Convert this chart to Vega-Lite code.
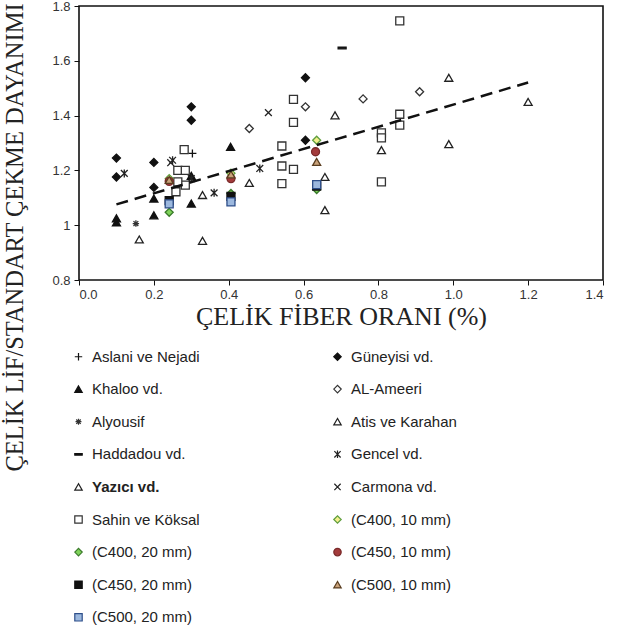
{
  "$schema": "https://vega.github.io/schema/vega-lite/v6.json",
  "width": 524,
  "height": 274,
  "autosize": "none",
  "padding": {"left": 79, "top": 6, "right": 20, "bottom": 352},
  "background": "white",
  "config": {
    "view": {"stroke": "#111", "strokeWidth": 1.6},
    "axis": {"grid": false, "labelFont": "Liberation Sans", "labelFontSize": 13, "labelColor": "#333", "tickColor": "#111", "domainColor": "#111", "tickSize": 5, "titleFont": "Liberation Serif", "titleFontWeight": "normal", "titleColor": "#222", "titleFontSize": 25},
    "legend": {"labelFont": "Liberation Sans", "labelFontSize": 15, "labelColor": "#222"}
  },
  "datasets": {
    "pts": [
      {"s": "Aslani ve Nejadi", "x": 0.303, "y": 1.262},
      {"s": "Güneyisi vd.", "x": 0.1, "y": 1.245},
      {"s": "Güneyisi vd.", "x": 0.1, "y": 1.176},
      {"s": "Güneyisi vd.", "x": 0.2, "y": 1.229},
      {"s": "Güneyisi vd.", "x": 0.2, "y": 1.138},
      {"s": "Güneyisi vd.", "x": 0.3, "y": 1.432},
      {"s": "Güneyisi vd.", "x": 0.3, "y": 1.383},
      {"s": "Güneyisi vd.", "x": 0.605, "y": 1.538},
      {"s": "Güneyisi vd.", "x": 0.605, "y": 1.31},
      {"s": "Khaloo vd.", "x": 0.1, "y": 1.025},
      {"s": "Khaloo vd.", "x": 0.1, "y": 1.01},
      {"s": "Khaloo vd.", "x": 0.2, "y": 1.036},
      {"s": "Khaloo vd.", "x": 0.2, "y": 1.097},
      {"s": "Khaloo vd.", "x": 0.3, "y": 1.079},
      {"s": "Khaloo vd.", "x": 0.3, "y": 1.18},
      {"s": "Khaloo vd.", "x": 0.405, "y": 1.286},
      {"s": "AL-Ameeri", "x": 0.455, "y": 1.353},
      {"s": "AL-Ameeri", "x": 0.605, "y": 1.432},
      {"s": "AL-Ameeri", "x": 0.759, "y": 1.461},
      {"s": "AL-Ameeri", "x": 0.91, "y": 1.487},
      {"s": "Alyousif", "x": 0.152, "y": 1.006},
      {"s": "Atis ve Karahan", "x": 0.161, "y": 0.948},
      {"s": "Atis ve Karahan", "x": 0.33, "y": 0.943},
      {"s": "Atis ve Karahan", "x": 0.33, "y": 1.11},
      {"s": "Atis ve Karahan", "x": 0.455, "y": 1.154},
      {"s": "Atis ve Karahan", "x": 0.657, "y": 1.055},
      {"s": "Atis ve Karahan", "x": 0.657, "y": 1.176},
      {"s": "Haddadou vd.", "x": 0.703, "y": 1.647},
      {"s": "Gencel vd.", "x": 0.121, "y": 1.189},
      {"s": "Gencel vd.", "x": 0.25, "y": 1.237},
      {"s": "Gencel vd.", "x": 0.361, "y": 1.118},
      {"s": "Gencel vd.", "x": 0.483, "y": 1.207},
      {"s": "Gencel vd.", "x": 0.3, "y": 1.17},
      {"s": "Yazıcı vd.", "x": 0.684, "y": 1.401},
      {"s": "Yazıcı vd.", "x": 0.808, "y": 1.274},
      {"s": "Yazıcı vd.", "x": 0.988, "y": 1.538},
      {"s": "Yazıcı vd.", "x": 0.988, "y": 1.296},
      {"s": "Yazıcı vd.", "x": 1.2, "y": 1.45},
      {"s": "Carmona vd.", "x": 0.506, "y": 1.411},
      {"s": "Carmona vd.", "x": 0.245, "y": 1.228},
      {"s": "Sahin ve Köksal", "x": 0.857, "y": 1.746},
      {"s": "Sahin ve Köksal", "x": 0.573, "y": 1.459},
      {"s": "Sahin ve Köksal", "x": 0.573, "y": 1.375},
      {"s": "Sahin ve Köksal", "x": 0.542, "y": 1.289},
      {"s": "Sahin ve Köksal", "x": 0.542, "y": 1.216},
      {"s": "Sahin ve Köksal", "x": 0.573, "y": 1.204},
      {"s": "Sahin ve Köksal", "x": 0.542, "y": 1.152},
      {"s": "Sahin ve Köksal", "x": 0.808, "y": 1.337},
      {"s": "Sahin ve Köksal", "x": 0.808, "y": 1.319},
      {"s": "Sahin ve Köksal", "x": 0.857, "y": 1.405},
      {"s": "Sahin ve Köksal", "x": 0.857, "y": 1.365},
      {"s": "Sahin ve Köksal", "x": 0.808, "y": 1.158},
      {"s": "Sahin ve Köksal", "x": 0.281, "y": 1.276},
      {"s": "Sahin ve Köksal", "x": 0.264, "y": 1.2},
      {"s": "Sahin ve Köksal", "x": 0.284, "y": 1.2},
      {"s": "Sahin ve Köksal", "x": 0.259, "y": 1.122},
      {"s": "Sahin ve Köksal", "x": 0.284, "y": 1.146},
      {"s": "Sahin ve Köksal", "x": 0.264, "y": 1.158},
      {"s": "(C400, 10 mm)", "x": 0.241, "y": 1.17},
      {"s": "(C400, 10 mm)", "x": 0.406, "y": 1.19},
      {"s": "(C400, 10 mm)", "x": 0.635, "y": 1.31},
      {"s": "(C400, 20 mm)", "x": 0.241, "y": 1.047},
      {"s": "(C400, 20 mm)", "x": 0.406, "y": 1.116},
      {"s": "(C400, 20 mm)", "x": 0.635, "y": 1.13},
      {"s": "(C450, 20 mm)", "x": 0.241, "y": 1.09},
      {"s": "(C450, 20 mm)", "x": 0.406, "y": 1.105},
      {"s": "(C450, 20 mm)", "x": 0.635, "y": 1.143},
      {"s": "(C500, 20 mm)", "x": 0.241, "y": 1.078},
      {"s": "(C500, 20 mm)", "x": 0.406, "y": 1.085},
      {"s": "(C500, 20 mm)", "x": 0.635, "y": 1.148},
      {"s": "(C450, 10 mm)", "x": 0.241, "y": 1.16},
      {"s": "(C450, 10 mm)", "x": 0.406, "y": 1.17},
      {"s": "(C450, 10 mm)", "x": 0.632, "y": 1.268},
      {"s": "(C500, 10 mm)", "x": 0.241, "y": 1.165},
      {"s": "(C500, 10 mm)", "x": 0.406, "y": 1.185},
      {"s": "(C500, 10 mm)", "x": 0.635, "y": 1.231}
    ],
    "trend": [
      {"x": 0.1, "y": 1.076},
      {"x": 1.2, "y": 1.521}
    ]
  },
  "layer": [
    {
      "mark": {"type": "rule", "color": "#888", "strokeWidth": 1.5},
      "encoding": {"y": {"datum": 1, "type": "quantitative"}}
    },
    {
      "data": {"name": "pts"},
      "mark": {"type": "point", "filled": false, "size": 64, "strokeWidth": 1.3, "opacity": 1},
      "encoding": {
        "x": {"field": "x", "type": "quantitative", "scale": {"domain": [0, 1.4], "nice": false},
          "axis": {"values": [0, 0.2, 0.4, 0.6, 0.8, 1.0, 1.2, 1.4], "format": ".1f", "title": "ÇELİK FİBER ORANI (%)", "titleFontSize": 26, "domain": false, "labelPadding": 3, "titlePadding": 2}},
        "y": {"field": "y", "type": "quantitative", "scale": {"domain": [0.8, 1.8], "nice": false, "zero": false},
          "axis": {"values": [0.8, 1.0, 1.2, 1.4, 1.6, 1.8], "labelExpr": "datum.value == 1 ? '1' : format(datum.value, '.1f')", "title": "ÇELİK LİF/STANDART ÇEKME DAYANIMI", "titleFontSize": 24.5, "domain": false, "labelPadding": 4, "titleX": -52, "titleY": 231, "titleAngle": -90, "titleAlign": "center", "titleBaseline": "bottom"}},
        "shape": {"field": "s", "type": "nominal",
          "scale": {
            "domain": ["Aslani ve Nejadi", "Khaloo vd.", "Alyousif", "Haddadou vd.", "Yazıcı vd.", "Sahin ve Köksal", "(C400, 20 mm)", "(C450, 20 mm)", "(C500, 20 mm)", "Güneyisi vd.", "AL-Ameeri", "Atis ve Karahan", "Gencel vd.", "Carmona vd.", "(C400, 10 mm)", "(C450, 10 mm)", "(C500, 10 mm)"],
            "range": ["M-1,0H1M0,-1V1", "triangle-up", "M-0.8,0H0.8M0,-0.8V0.8M-0.6,-0.6L0.6,0.6M-0.6,0.6L0.6,-0.6", "M-1,-0.22H1V0.22H-1Z", "triangle-up", "square", "diamond", "square", "square", "diamond", "diamond", "triangle-up", "M-0.85,-0.85L0.85,0.85M-0.85,0.85L0.85,-0.85M0,-1V1", "M-0.85,-0.85L0.85,0.85M-0.85,0.85L0.85,-0.85", "diamond", "circle", "triangle-up"]
          },
          "legend": {"title": null, "orient": "none", "legendX": -8, "legendY": 343, "columns": 2, "columnPadding": 130, "rowPadding": 16.6, "symbolSize": 55, "symbolStrokeWidth": 1.2, "labelOffset": 6, "labelFontWeight": {"expr": "datum.label == 'Yazıcı vd.' ? 'bold' : 'normal'"}}
        },
        "fill": {"field": "s", "type": "nominal",
          "scale": {
            "domain": ["Aslani ve Nejadi", "Khaloo vd.", "Alyousif", "Haddadou vd.", "Yazıcı vd.", "Sahin ve Köksal", "(C400, 20 mm)", "(C450, 20 mm)", "(C500, 20 mm)", "Güneyisi vd.", "AL-Ameeri", "Atis ve Karahan", "Gencel vd.", "Carmona vd.", "(C400, 10 mm)", "(C450, 10 mm)", "(C500, 10 mm)"],
            "range": ["#111", "#111", "#333", "#111", "#ffffff", "#ffffff", "#7fd35a", "#111111", "#9cb8de", "#111", "#ffffff", "#ffffff", "#222", "#222", "#f3ef8c", "#a33b3b", "#c9a27a"]
          },
          "legend": {"title": null}
        },
        "stroke": {"field": "s", "type": "nominal",
          "scale": {
            "domain": ["Aslani ve Nejadi", "Khaloo vd.", "Alyousif", "Haddadou vd.", "Yazıcı vd.", "Sahin ve Köksal", "(C400, 20 mm)", "(C450, 20 mm)", "(C500, 20 mm)", "Güneyisi vd.", "AL-Ameeri", "Atis ve Karahan", "Gencel vd.", "Carmona vd.", "(C400, 10 mm)", "(C450, 10 mm)", "(C500, 10 mm)"],
            "range": ["#111", "#111", "#333", "#111", "#222", "#333", "#3a7a2a", "#111111", "#2e4f8a", "#111", "#333", "#222", "#222", "#222", "#5f9e3f", "#7a2a2a", "#5a3e20"]
          },
          "legend": {"title": null}
        }
      }
    },
    {
      "data": {"name": "trend"},
      "mark": {"type": "line", "color": "#111", "strokeWidth": 2.5, "strokeDash": [12, 7]},
      "encoding": {
        "x": {"field": "x", "type": "quantitative"},
        "y": {"field": "y", "type": "quantitative"}
      }
    }
  ]
}
